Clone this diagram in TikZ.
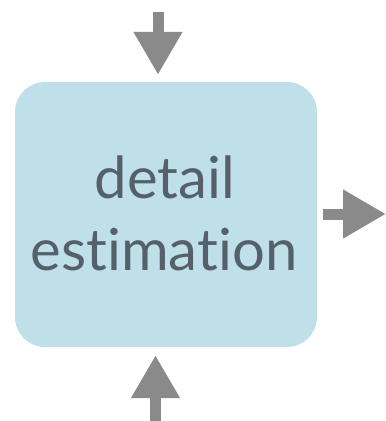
\documentclass[tikz,border=0pt]{standalone}
\usepackage{fontspec}
\setmainfont[Ligatures={NoCommon,NoDiscretionary,NoRare}]{Lato}
\usetikzlibrary{arrows.meta}
\definecolor{boxblue}{HTML}{BFE0E9}
\definecolor{txtgray}{HTML}{56606A}
\definecolor{arrgray}{HTML}{8A8A8A}
\tikzset{
  stepbox/.style={draw=none, fill=boxblue, rounded corners=30pt, minimum width=302pt, minimum height=265pt, inner sep=0pt},
  bigtext/.style={text=txtgray, font=\fontsize{58}{72}\selectfont, inner sep=0pt, anchor=base},
  flow/.style={draw=arrgray, line width=11pt, line cap=butt, -{Triangle[width=46pt,length=43pt]}, arrgray}
}
\begin{document}
\begin{tikzpicture}[x=1pt,y=-1pt]
  \useasboundingbox (0,0) rectangle (386,421);
  \node[stepbox] (box) at (166,214.5) {};
  \node[bigtext] (t1) at (165,198) {detail};
  \node[bigtext] (t2) at (164,270) {estimation};
  \coordinate (topin) at (158,12);
  \coordinate (botin) at (155.5,421);
  \coordinate (rightout) at (386,214);
  \draw[flow, shorten >=7pt] (topin) -- (box.north -| topin);
  \draw[flow, shorten >=8pt] (botin) -- (box.south -| botin);
  \draw[flow, shorten <=6pt] (box.east |- rightout) -- (rightout);
\end{tikzpicture}
\end{document}
